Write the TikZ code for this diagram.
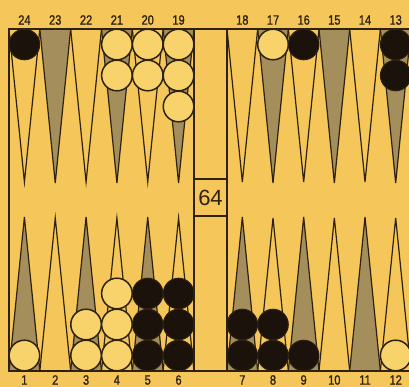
\documentclass[tikz,border=0pt]{standalone}
\usepackage{fontspec}
\setmainfont{Liberation Sans}
\newfontfamily\labfont[FakeStretch=0.82,FakeBold=1.2]{Liberation Sans}
\definecolor{bg}{HTML}{F5C75A}
\definecolor{ink}{HTML}{2E2110}
\definecolor{stip}{HTML}{A38E5C}
\definecolor{wfill}{HTML}{F8D36C}
\definecolor{bfill}{HTML}{1A120B}
\begin{document}
\begin{tikzpicture}[x=1pt,y=-1pt,
  frame/.style={draw=ink, line width=1.3pt},
  lightpt/.style={draw=ink, line width=1.2pt, line join=miter},
  darkpt/.style={draw=ink, fill=stip, line width=1.2pt, line join=miter},
  wchk/.style={draw=ink, fill=wfill, line width=1.5pt},
  bchk/.style={draw=ink, fill=bfill, line width=1pt},
  lab/.style={font=\labfont\fontsize{13.5}{13.5}\selectfont, text=ink, inner sep=0pt},
  cubetxt/.style={font=\fontsize{22}{22}\selectfont, text=ink, inner sep=0pt}]
\useasboundingbox (0,0) rectangle (409,387);
\fill[bg] (0,0) rectangle (409,387);
% points: left half x from 9, width 30.83 ; right half from 227, width 30.67
\foreach \i in {0,...,5} {
  \pgfmathsetmacro{\xa}{9+\i*30.83}
  \pgfmathsetmacro{\xb}{9+(\i+1)*30.83}
  \pgfmathsetmacro{\xm}{9+(\i+0.5)*30.83}
  \pgfmathsetmacro{\ya}{227+\i*30.67}
  \pgfmathsetmacro{\yb}{227+(\i+1)*30.67}
  \pgfmathsetmacro{\ym}{227+(\i+0.5)*30.67}
  \ifodd\i
    \path[darkpt] (\xa,29) -- (\xm,183) -- (\xb,29) -- cycle;
    \path[lightpt] (\xa,371) -- (\xm,218) -- (\xb,371);
    \path[darkpt] (\ya,29) -- (\ym,183) -- (\yb,29) -- cycle;
    \path[lightpt] (\ya,371) -- (\ym,218) -- (\yb,371);
  \else
    \path[lightpt] (\xa,29) -- (\xm,182) -- (\xb,29);
    \path[darkpt] (\xa,371) -- (\xm,217) -- (\xb,371) -- cycle;
    \path[lightpt] (\ya,29) -- (\ym,182) -- (\yb,29);
    \path[darkpt] (\ya,371) -- (\ym,217) -- (\yb,371) -- cycle;
  \fi
}
% frame
\draw[frame] (409,29) -- (9,29) -- (9,371) -- (409,371);
\draw[frame] (194,29) -- (194,371);
\draw[frame] (227,29) -- (227,371);
% doubling cube
\draw[frame] (194,179) rectangle (227,216);
\node[cubetxt] (cube) at (210.5,198) {64};
% labels
\foreach \n [count=\k from 0] in {24,23,22,21,20,19} {
  \node[lab] (t\n) at ({9+(\k+0.5)*30.83},20) {\n};
}
\foreach \n [count=\k from 0] in {18,17,16,15,14,13} {
  \node[lab] (t\n) at ({227+(\k+0.5)*30.67},20) {\n};
}
\foreach \n [count=\k from 0] in {1,2,3,4,5,6} {
  \node[lab] (b\n) at ({9+(\k+0.5)*30.83},380) {\n};
}
\foreach \n [count=\k from 0] in {7,8,9,10,11,12} {
  \node[lab] (b\n) at ({227+(\k+0.5)*30.67},380) {\n};
}
% checkers: column centres
\def\cL#1{9+(#1+0.5)*30.83}
\def\cR#1{227+(#1+0.5)*30.67}
\def\r{15.3}
% top
\draw[bchk] ({\cL0},44.5) circle (\r);
\foreach \c in {3,4} { \draw[wchk] ({\cL\c},44.5) circle (\r); \draw[wchk] ({\cL\c},75.5) circle (\r); }
\draw[wchk] ({\cL5},44.5) circle (\r);
\draw[wchk] ({\cL5},75.5) circle (\r);
\draw[wchk] ({\cL5},106.5) circle (\r);
\draw[wchk] ({\cR1},44.5) circle (\r);
\draw[bchk] ({\cR2},44.5) circle (\r);
\draw[bchk] ({\cR5},44.5) circle (\r);
\draw[bchk] ({\cR5},75.5) circle (\r);
% bottom
\draw[wchk] ({\cL0},355.5) circle (\r);
\draw[wchk] ({\cL2},355.5) circle (\r);
\draw[wchk] ({\cL2},324.5) circle (\r);
\draw[wchk] ({\cL3},355.5) circle (\r);
\draw[wchk] ({\cL3},324.5) circle (\r);
\draw[wchk] ({\cL3},293.5) circle (\r);
\foreach \c in {4,5} { \foreach \y in {355.5,324.5,293.5} { \draw[bchk] ({\cL\c},\y) circle (\r); } }
\foreach \c in {0,1} { \foreach \y in {355.5,324.5} { \draw[bchk] ({\cR\c},\y) circle (\r); } }
\draw[bchk] ({\cR2},355.5) circle (\r);
\draw[wchk] ({\cR5},355.5) circle (\r);
\end{tikzpicture}
\end{document}
